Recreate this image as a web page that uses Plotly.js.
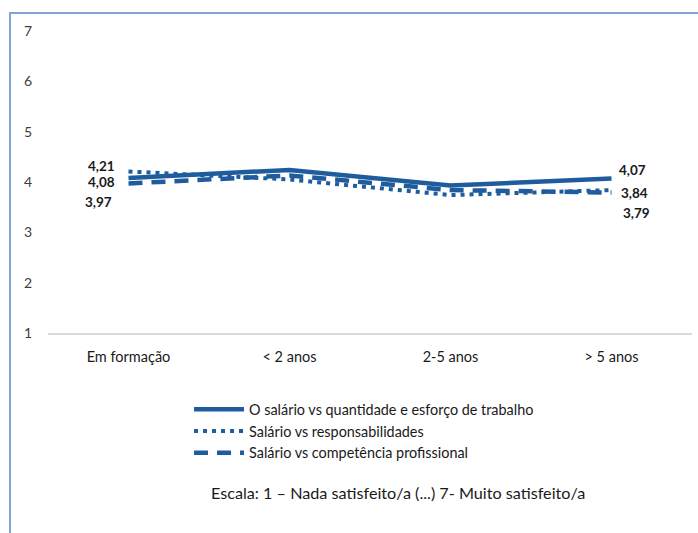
<!DOCTYPE html>
<html>
<head>
<meta charset="utf-8">
<script src="https://cdn.plot.ly/plotly-3.0.1.min.js"></script>
<style>
  html, body { margin: 0; padding: 0; background: #ffffff; }
  #wrap { position: relative; width: 698px; height: 533px; overflow: hidden; }
  #frame { position: absolute; left: 9px; top: 12px; width: 720px; height: 560px;
           border-left: 2px solid #7ea6db; border-top: 2px solid #7ea6db; pointer-events: none; }
  #chart { position: absolute; left: 0; top: 0; width: 698px; height: 533px; }
</style>
</head>
<body>
<div id="wrap">
  <div id="chart"></div>
  <div id="frame"></div>
</div>
<script>
// Experience groups on the x axis
const categories = ['Em formação', '< 2 anos', '2-5 anos', '> 5 anos'];

// Mean satisfaction (scale 1-7) per series
const esforco = [4.08, 4.24, 3.93, 4.07];
const responsabilidades = [4.21, 4.05, 3.74, 3.84];
const competencia = [3.97, 4.13, 3.84, 3.79];

const seriesNames = [
  'O salário vs quantidade e esforço de trabalho',
  'Salário vs responsabilidades',
  'Salário vs competência profissional'
];

const caption = 'Escala: 1 – Nada satisfeito/a (...) 7- Muito satisfeito/a';

const blue = '#1f5c9e';
const fontFam = 'Lato, "Open Sans", sans-serif';

function fmt(v) { return v.toFixed(2).replace('.', ','); }

const traces = [
  { x: categories, y: esforco, name: seriesNames[0], mode: 'lines',
    line: { color: blue, width: 4.5 } },
  { x: categories, y: responsabilidades, name: seriesNames[1], mode: 'lines',
    line: { color: blue, width: 4, dash: '4px,5px' } },
  { x: categories, y: competencia, name: seriesNames[2], mode: 'lines',
    line: { color: blue, width: 4.5, dash: '14px,9px' } }
];

// End-point value labels, attached to the first and last points of each series
const labelFont = { family: fontFam, size: 13.5, color: '#1a1a1a', weight: 'bold' };
const first = 0, last = categories.length - 1;
const annotations = [
  { x: categories[first], y: responsabilidades[first], text: '<b>' + fmt(responsabilidades[first]) + '</b>',
    xanchor: 'right', yanchor: 'middle', xshift: -12, yshift: 5 },
  { x: categories[first], y: esforco[first], text: '<b>' + fmt(esforco[first]) + '</b>',
    xanchor: 'right', yanchor: 'middle', xshift: -12, yshift: -4 },
  { x: categories[first], y: competencia[first], text: '<b>' + fmt(competencia[first]) + '</b>',
    xanchor: 'right', yanchor: 'middle', xshift: -15, yshift: -18 },
  { x: categories[last], y: esforco[last], text: '<b>' + fmt(esforco[last]) + '</b>',
    xanchor: 'left', yanchor: 'middle', xshift: 5, yshift: 8 },
  { x: categories[last], y: responsabilidades[last], text: '<b>' + fmt(responsabilidades[last]) + '</b>',
    xanchor: 'left', yanchor: 'middle', xshift: 7, yshift: -3 },
  { x: categories[last], y: competencia[last], text: '<b>' + fmt(competencia[last]) + '</b>',
    xanchor: 'left', yanchor: 'middle', xshift: 9, yshift: -20 }
].map(a => Object.assign({ xref: 'x', yref: 'y', showarrow: false, font: labelFont }, a));

annotations.push({
  xref: 'paper', yref: 'paper', x: 0.5435, y: -0.5265, xanchor: 'center', yanchor: 'middle',
  showarrow: false, text: caption, font: { family: fontFam, size: 16.2, color: '#1a1a1a' }
});

const layout = {
  width: 698, height: 533,
  margin: { l: 48, r: 6, t: 31, b: 200 },
  paper_bgcolor: '#ffffff', plot_bgcolor: '#ffffff',
  font: { family: fontFam, size: 13, color: '#404040' },
  showlegend: true,
  legend: {
    x: 0.219, y: -0.2, xanchor: 'left', yanchor: 'top',
    orientation: 'v', tracegroupgap: 0, itemwidth: 50,
    font: { family: fontFam, size: 14.4, color: '#1a1a1a' },
    bgcolor: 'rgba(0,0,0,0)'
  },
  xaxis: {
    type: 'category', range: [-0.5, 3.5], showgrid: false, zeroline: false,
    showline: true, linecolor: '#d9d9d9', linewidth: 1.5,
    ticks: '', ticklabelstandoff: 10, fixedrange: true,
    tickfont: { family: fontFam, size: 14.5, color: '#1a1a1a' }
  },
  yaxis: {
    range: [1, 7], dtick: 1, tick0: 1, showgrid: false, zeroline: false,
    showline: false, ticks: '', ticklabelstandoff: 15, fixedrange: true,
    tickfont: { family: fontFam, size: 14, color: '#404040' }
  },
  annotations: annotations
};

Plotly.newPlot('chart', traces, layout, { staticPlot: true, displayModeBar: false });
</script>
</body>
</html>
